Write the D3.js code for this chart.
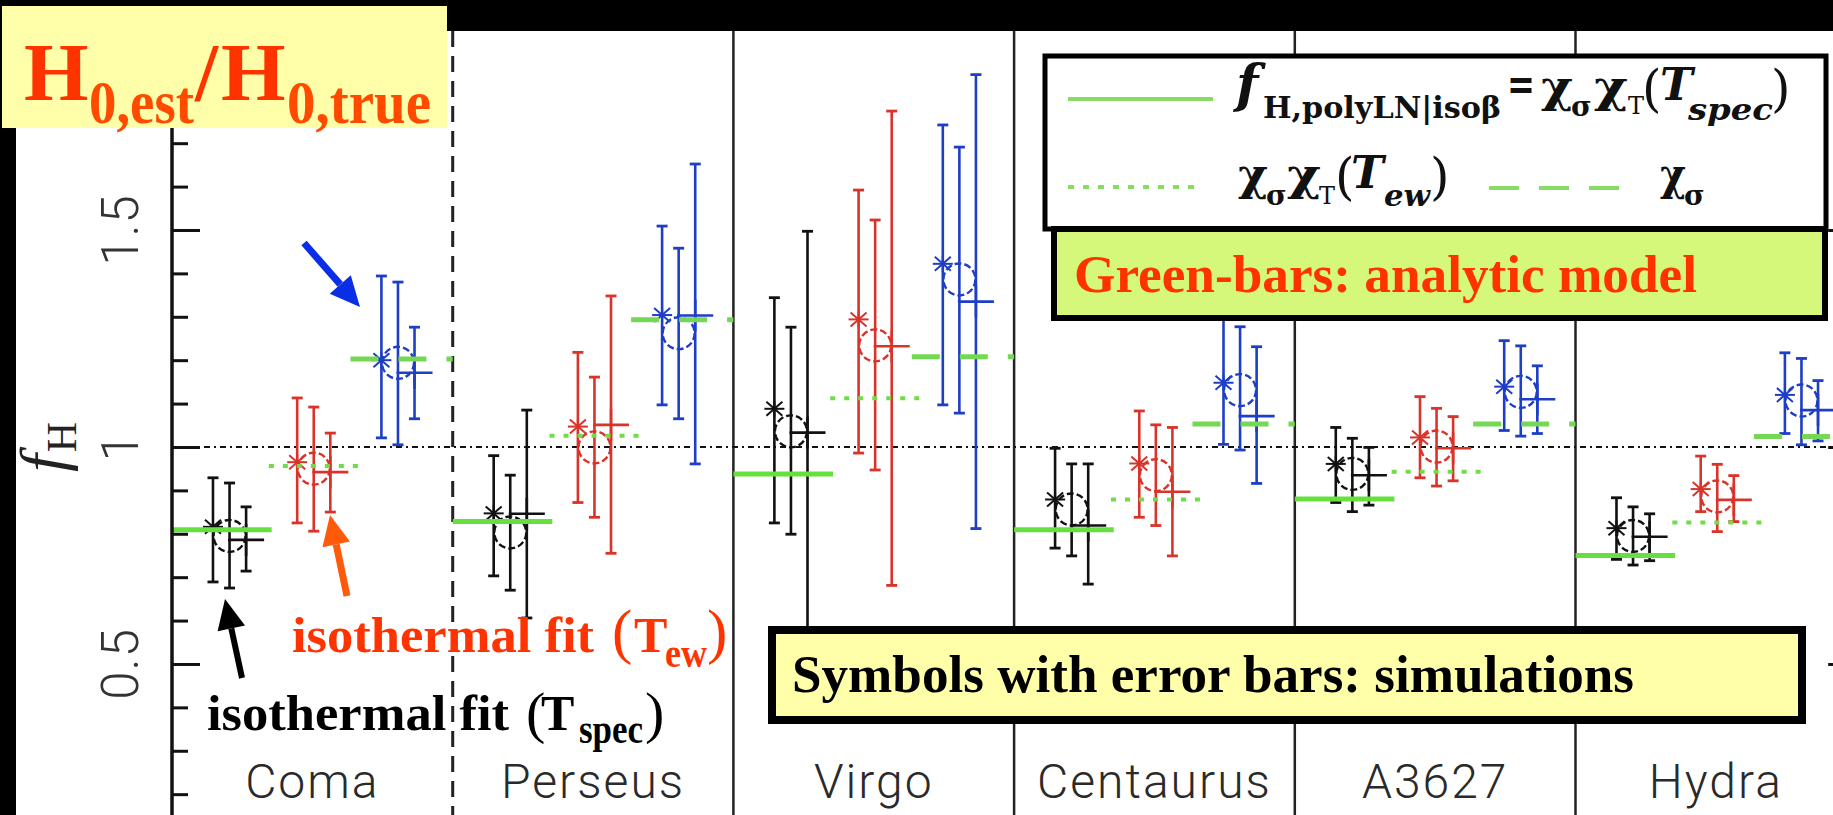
<!DOCTYPE html>
<html><head><meta charset="utf-8">
<script src="https://cdn.jsdelivr.net/npm/d3@7"></script>
<style>body{margin:0;background:#000;overflow:hidden}svg{display:block}</style>
</head><body>
<svg id="c" width="1833" height="815"></svg>
<script>
// ---------------- DATA ----------------
const categories = ["Coma","Perseus","Virgo","Centaurus","A3627","Hydra"];
const yMajorTicks = [0.5, 1, 1.5];
const yTickLabels = ["0.5","1","1.5"];
const yMinorTicks = [0.2,0.3,0.4,0.6,0.7,0.8,0.9,1.1,1.2,1.3,1.4,1.6,1.7,1.8,1.9];

// simulations: [value, low, high] per cluster
// isothermal fit, T_spec (black)
const specStar   = [[0.816,0.689,0.929],[0.847,0.703,0.980],[1.088,0.825,1.344],[0.879,0.767,0.997],[0.961,0.872,1.045],[0.813,0.741,0.883]];
const specCircle = [[0.795,0.675,0.917],[0.803,0.670,0.935],[1.036,0.799,1.276],[0.856,0.749,0.961],[0.938,0.851,1.020],[0.795,0.728,0.862]];
const specPlus   = [[0.786,0.714,0.862],[0.846,0.606,1.085],[1.033,0.500,1.497],[0.819,0.684,0.961],[0.935,0.866,0.999],[0.793,0.738,0.846]];
// isothermal fit, T_ew (red)
const ewStar     = [[0.965,0.825,1.113],[1.047,0.872,1.218],[1.294,0.986,1.592],[0.962,0.838,1.083],[1.022,0.929,1.116],[0.903,0.851,0.979]];
const ewCircle   = [[0.950,0.806,1.092],[0.999,0.838,1.161],[1.234,0.947,1.523],[0.935,0.819,1.051],[1.001,0.910,1.089],[0.886,0.805,0.960]];
const ewPlus     = [[0.942,0.850,1.032],[1.051,0.755,1.348],[1.232,0.681,1.774],[0.897,0.749,1.045],[0.997,0.922,1.070],[0.878,0.828,0.934]];
// blue set
const sigStar    = [[1.200,1.021,1.394],[1.304,1.097,1.509],[1.422,1.097,1.742],[1.148,1.006,1.330],[1.139,1.038,1.245],[1.120,1.031,1.217]];
const sigCircle  = [[1.194,1.005,1.380],[1.262,1.065,1.458],[1.386,1.078,1.691],[1.131,0.993,1.277],[1.127,1.025,1.233],[1.107,1.005,1.204]];
const sigPlus    = [[1.171,1.065,1.276],[1.303,0.961,1.652],[1.335,0.812,1.858],[1.071,0.916,1.231],[1.110,1.031,1.187],[1.085,1.014,1.153]];

// analytic model (green bars)
const modelTspec = [0.809,0.828,0.938,0.809,0.880,0.750];   // chi_sigma chi_T(T_spec), solid
const modelTew   = [0.956,1.026,1.112,0.879,0.943,0.826];   // chi_sigma chi_T(T_ew), dotted
const modelSigma = [1.203,1.293,1.208,1.053,1.053,1.024];   // chi_sigma, dashed
const refLine = 1;

// ---------------- LAYOUT ----------------
const W = 1833, H = 815;
const svg = d3.select("#c");
svg.append("rect").attr("width",W).attr("height",H).attr("fill","#000");
svg.append("rect").attr("x",16).attr("y",31).attr("width",W-16).attr("height",H-31).attr("fill","#fff");

const x = d3.scaleBand().domain(categories).range([172, 172 + 280.7*6]).padding(0);
const y = d3.scaleLinear().domain([0.152, 1.9585]).range([815, 31]);
const bw = x.bandwidth();

const plot = svg.append("g");

// panel separators
categories.slice(1).forEach((c,i)=>{
  plot.append("line").attr("x1",x(c)).attr("x2",x(c)).attr("y1",31).attr("y2",H)
    .attr("stroke","#222").attr("stroke-width",i===0?3:2.5)
    .attr("stroke-dasharray", i===0 ? "16,9" : null);
});

// reference line f_H = 1
plot.append("line").attr("x1",172).attr("x2",W).attr("y1",y(refLine)).attr("y2",y(refLine))
  .attr("stroke","#111").attr("stroke-width",2.2).attr("stroke-dasharray","6,4,2,4");

// axes
const axL = svg.append("g").attr("transform","translate(172,0)");
axL.call(d3.axisRight(y).tickValues(yMinorTicks).tickSize(16).tickSizeOuter(0).tickFormat(""));
axL.call(g=>g.select(".domain").remove());
const axL2 = svg.append("g").attr("transform","translate(172,0)");
axL2.call(d3.axisRight(y).tickValues(yMajorTicks).tickSize(28).tickSizeOuter(0).tickFormat(""));
axL2.call(g=>g.select(".domain").remove());
svg.selectAll(".tick line").attr("stroke","#111").attr("stroke-width",3);
svg.append("line").attr("x1",172).attr("x2",172).attr("y1",31).attr("y2",H).attr("stroke","#111").attr("stroke-width",3.5);

const xr = x.range()[1];
const axR = svg.append("g").attr("transform",`translate(${xr},0)`);
axR.call(d3.axisLeft(y).tickValues(yMinorTicks).tickSize(16).tickSizeOuter(0).tickFormat(""));
axR.call(d3.axisLeft(y).tickValues(yMajorTicks).tickSize(28).tickSizeOuter(0).tickFormat(""));
axR.selectAll(".tick line").attr("stroke","#111").attr("stroke-width",3);

// tick labels (rotated)
yMajorTicks.forEach((v,i)=>{
  svg.append("text").attr("transform",`translate(138,${y(v)}) rotate(-90)`)
    .attr("text-anchor","middle").attr("font-family","Roboto, 'DejaVu Sans', sans-serif")
    .attr("font-weight",300).attr("font-size",51).attr("letter-spacing",1).attr("fill","#333").text(yTickLabels[i]);
});
// y label f_H
const yl = svg.append("text").attr("transform",`translate(64,${y(1)}) rotate(-90)`)
  .attr("text-anchor","middle").attr("font-family","'Liberation Serif', serif").attr("fill","#222");
yl.append("tspan").attr("font-style","italic").attr("font-size",64).text("f");
yl.append("tspan").attr("font-size",42).attr("dy",12).attr("dx",2).text("H");

// category labels
categories.forEach(c=>{
  svg.append("text").attr("x",x(c)+bw/2).attr("y",798).attr("text-anchor","middle")
    .attr("font-family","Roboto, 'DejaVu Sans', sans-serif").attr("font-weight",300)
    .attr("font-size",48).attr("letter-spacing",2).attr("fill","#2a2a2a").text(c);
});

// simulation symbols with error bars
const groups = [
  {color:"#111111", data:[specStar,specCircle,specPlus], center:0.205},
  {color:"#d9332a", data:[ewStar,ewCircle,ewPlus],       center:0.505},
  {color:"#1e3ec6", data:[sigStar,sigCircle,sigPlus],    center:0.805}
];
const offsets = [-0.059, 0, 0.059];
const shapes = ["star","circle","plus"];
const marks = plot.append("g");
categories.forEach((c,ci)=>{
  groups.forEach(g=>{
    g.data.forEach((ser,si)=>{
      const [v,lo,hi] = ser[ci];
      const px = x(c) + (g.center + offsets[si]) * bw;
      const gg = marks.append("g").attr("stroke",g.color).attr("fill","none");
      gg.append("line").attr("x1",px).attr("x2",px).attr("y1",y(lo)).attr("y2",y(hi)).attr("stroke-width",2.6);
      [lo,hi].forEach(e=>gg.append("line").attr("x1",px-5.5).attr("x2",px+5.5).attr("y1",y(e)).attr("y2",y(e)).attr("stroke-width",2.8));
      const py = y(v);
      if (shapes[si]==="star") {
        const s = gg.append("g").attr("stroke-width",2);
        s.append("line").attr("x1",px-10).attr("x2",px+10).attr("y1",py).attr("y2",py);
        s.append("line").attr("x1",px-8).attr("x2",px+8).attr("y1",py-7).attr("y2",py+7);
        s.append("line").attr("x1",px-8).attr("x2",px+8).attr("y1",py+7).attr("y2",py-7);
        s.append("line").attr("x1",px).attr("x2",px).attr("y1",py-8).attr("y2",py+8);
      } else if (shapes[si]==="circle") {
        gg.append("circle").attr("cx",px).attr("cy",py).attr("r",16).attr("stroke-width",2.4).attr("stroke-dasharray","7,3");
      } else {
        gg.append("line").attr("x1",px-18).attr("x2",px+18).attr("y1",py).attr("y2",py).attr("stroke-width",2.6);
        gg.append("line").attr("x1",px).attr("x2",px).attr("y1",py-16).attr("y2",py+16).attr("stroke-width",2.6);
      }
    });
  });
});

// analytic model bars (green)
const models = [
  {data:modelTspec, from:0.0,  to:0.355, dash:null,    color:"#66e03e", w:5},
  {data:modelTew,   from:0.345,to:0.685, dash:"5,9",   color:"#6fdc48", w:4},
  {data:modelSigma, from:0.6,  to:1.0,   dash:"28,20", color:"#74d854", w:5}
];
models.forEach(m=>{
  categories.forEach((c,ci)=>{
    plot.append("line").attr("x1",x(c)+m.from*bw).attr("x2",Math.min(x(c)+m.to*bw,W))
      .attr("y1",y(m.data[ci])).attr("y2",y(m.data[ci]))
      .attr("stroke",m.color).attr("stroke-width",m.w)
      .attr("stroke-dasharray",m.dash).attr("stroke-dashoffset",m.dash==="28,20"?-10:0);
  });
});

// ---------------- ANNOTATIONS ----------------
const serif = "'Liberation Serif','Times New Roman',serif";
function txt(str,xp,yp,size,color,opts={}){
  const t = svg.append("text").attr("x",xp).attr("y",yp).attr("font-family",opts.family||serif)
    .attr("font-size",size).attr("fill",color).attr("font-weight",opts.weight||"bold")
    .attr("font-style",opts.italic?"italic":"normal").text(str);
  if (opts.len) t.attr("textLength",opts.len).attr("lengthAdjust","spacingAndGlyphs");
  return t;
}

// title box
svg.append("rect").attr("x",2).attr("y",6).attr("width",445).attr("height",122).attr("fill","#ffffaa");
txt("H",24,100,83,"#ff3300");
txt("0,est",89,123,62,"#ff4a00",{len:105});
txt("/",195,100,83,"#ff3300");
txt("H",221,100,83,"#ff3300");
txt("0,true",287,123,62,"#ff4a00",{len:144});

// legend box
svg.append("rect").attr("x",1045).attr("y",56).attr("width",781).attr("height",173)
  .attr("fill","#fff").attr("stroke","#000").attr("stroke-width",5);
svg.append("line").attr("x1",1068).attr("x2",1213).attr("y1",99).attr("y2",99).attr("stroke","#86dc64").attr("stroke-width",4);
svg.append("line").attr("x1",1068).attr("x2",1203).attr("y1",187).attr("y2",187).attr("stroke","#86dc64").attr("stroke-width",4).attr("stroke-dasharray","6,9");
svg.append("line").attr("x1",1489).attr("x2",1620).attr("y1",188).attr("y2",188).attr("stroke","#86dc64").attr("stroke-width",4).attr("stroke-dasharray","30,20");
const mf = "'DejaVu Serif',serif";
txt("f",1236,102,52,"#111",{family:mf,italic:true});
txt("H,polyLN|isoβ",1263,118,30,"#111",{family:mf,len:238});
txt("=",1507,100,44,"#111",{family:mf,len:28});
txt("χ",1541,102,44,"#111",{family:mf,len:32});
txt("σ",1571,116,28,"#111",{family:mf});
txt("χ",1594,102,44,"#111",{family:mf,len:34});
txt("T",1628,114,24,"#111",{family:mf,weight:"normal"});
txt("(",1642,106,50,"#111",{family:mf,weight:"normal"});
txt("T",1660,100,44,"#111",{family:mf,italic:true});
txt("spec",1688,120,30,"#111",{family:mf,italic:true,len:85});
txt(")",1771,106,50,"#111",{family:mf,weight:"normal"});

txt("χ",1238,190,44,"#111",{family:mf,len:30});
txt("σ",1266,205,28,"#111",{family:mf});
txt("χ",1287,190,44,"#111",{family:mf,len:34});
txt("T",1319,204,24,"#111",{family:mf,weight:"normal"});
txt("(",1335,194,50,"#111",{family:mf,weight:"normal"});
txt("T",1351,188,44,"#111",{family:mf,italic:true});
txt("ew",1384,206,30,"#111",{family:mf,italic:true,len:46});
txt(")",1430,194,50,"#111",{family:mf,weight:"normal"});
txt("χ",1660,190,44,"#111",{family:mf,len:26});
txt("σ",1684,205,28,"#111",{family:mf});

// green box
svg.append("rect").attr("x",1054).attr("y",229).attr("width",771).attr("height",89)
  .attr("fill","#d5f77a").attr("stroke","#000").attr("stroke-width",6);
txt("Green-bars: analytic model",1074,292,53,"#ff3300",{len:623});

// symbols box
svg.append("rect").attr("x",772).attr("y",630).attr("width",1030).attr("height",90)
  .attr("fill","#ffffaa").attr("stroke","#000").attr("stroke-width",8);
txt("Symbols with error bars: simulations",792,692,53,"#000",{len:842});

// isothermal fit labels
txt("isothermal fit",292,652,50,"#ff3300",{len:302});
txt("(",612,652,61,"#ff3300",{weight:"normal"});
txt("T",634,652,50,"#ff3300");
txt("ew",665,667,40,"#ff3300",{len:42});
txt(")",707,652,61,"#ff3300",{weight:"normal"});

txt("isothermal fit",207,730,50,"#000",{len:302});
txt("(",526,732,58,"#000",{weight:"normal"});
txt("T",541,730,50,"#000");
txt("spec",579,743,40,"#000",{len:64});
txt(")",645,732,58,"#000",{weight:"normal"});

// arrows
function arrow(x1,y1,x2,y2,color,w){
  const a = Math.atan2(y2-y1,x2-x1), hl = 30, hw = 14;
  const bx = x2 - hl*Math.cos(a), by = y2 - hl*Math.sin(a);
  svg.append("line").attr("x1",x1).attr("y1",y1).attr("x2",bx).attr("y2",by)
    .attr("stroke",color).attr("stroke-width",w);
  const px = -Math.sin(a), py = Math.cos(a);
  svg.append("polygon").attr("fill",color)
    .attr("points",`${x2},${y2} ${bx+hw*px},${by+hw*py} ${bx-hw*px},${by-hw*py}`);
}
arrow(304,243,360,307,"#0a2ee6",7);
arrow(242,678,225,599,"#000",6);
arrow(347,596,330,515,"#ff5a0a",7);
</script>
</body></html>
